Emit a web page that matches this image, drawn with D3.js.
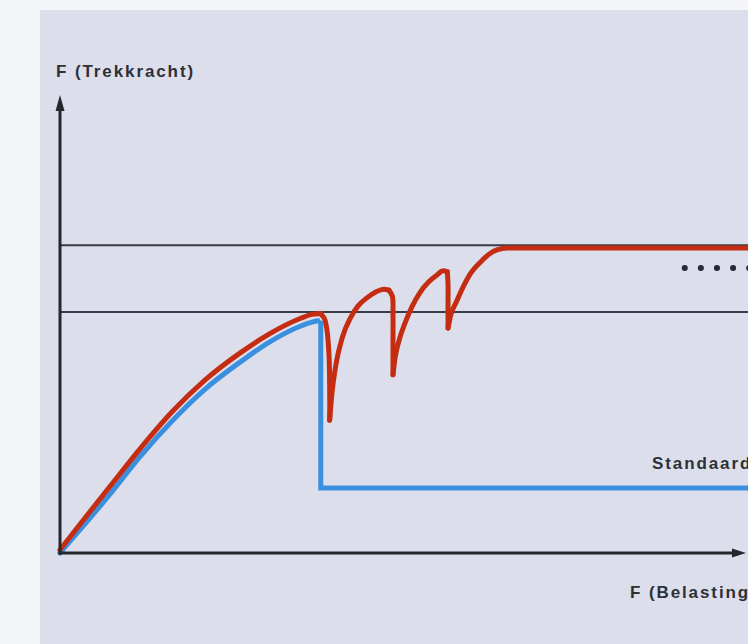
<!DOCTYPE html>
<html>
<head>
<meta charset="utf-8">
<script src="https://cdn.jsdelivr.net/npm/d3@7"></script>
<style>
html,body{margin:0;padding:0;background:#f4f5f9;}
svg{display:block;}
text{font-family:"Liberation Sans",Arial,sans-serif;font-weight:bold;fill:#2e3036;}
</style>
</head>
<body>
<svg id="chart" width="748" height="644"></svg>
<script>
// ---- data (load units 0-100 horizontally, force units 0-100 vertically) ----
const axisLabels = ["F (Trekkracht)", "F (Belasting)"];
const seriesLabels = ["Standaard"];
const upperLimit = 67.2;   // upper horizontal reference line
const lowerLimit = 52.6;   // lower horizontal reference line
const dottedLevel = 62.2;  // dotted leader level
const dottedStart = 90.8;

// blue: standard — rising part, then break and residual level
const blueRise = [[0,0],[3.6,6.3],[7.3,12.9],[11.6,21.0],[16.4,29.0],[21.1,35.8],[26.2,41.7],[30.5,46.1],[34.9,49.5],[36.6,50.4],[37.5,50.7]];
const blueBreak = [[37.9,50.2],[37.9,14.2],[100,14.2]];

// red: rising arms (even index) and falling hooks (odd index)
const redSegments = [
  [[0,0.7],[3.6,7.6],[7.3,14.6],[11.6,22.7],[16.4,31.0],[21.1,37.8],[26.2,43.7],[30.5,47.9],[34.9,51.2],[36.6,52.1],[37.8,52.3]],
  [[37.8,52.3],[38.4,51.3],[38.8,48.7],[39.1,43.2],[39.2,35.6],[39.2,29.0]],
  [[39.2,29.0],[39.5,34.5],[40.1,41.1],[41.0,46.9],[42.2,51.3],[43.3,53.9],[44.6,55.7],[45.9,57.0],[47.1,57.6],[47.8,57.4]],
  [[47.8,57.4],[48.3,56.1],[48.4,51.9],[48.4,45.4],[48.4,38.9]],
  [[48.4,38.9],[48.7,42.6],[49.3,46.5],[50.2,50.4],[51.2,53.9],[52.3,56.8],[53.6,59.2],[54.8,60.7],[55.7,61.6],[56.3,61.4]],
  [[56.3,61.4],[56.4,58.5],[56.4,54.2],[56.4,49.1]],
  [[56.4,49.1],[56.8,52.0],[57.6,54.8],[58.6,58.1],[59.7,61.1],[61.1,63.5],[62.4,65.3],[63.5,66.2],[65.0,66.6],[100,66.6]]
];

// ---- drawing ----
const svg = d3.select("#chart");
const W = 748, H = 644;
const x = d3.scaleLinear().domain([0,100]).range([60,748]);
const y = d3.scaleLinear().domain([0,100]).range([553,95]);

// panel
svg.append("rect").attr("x",40).attr("y",10).attr("width",W-40).attr("height",H-10).attr("fill","#dcdfeb");

// reference lines
svg.selectAll("line.ref").data([upperLimit, lowerLimit]).enter().append("line")
  .attr("class","ref")
  .attr("x1",x(0)).attr("x2",x(100))
  .attr("y1",d=>y(d)).attr("y2",d=>y(d))
  .attr("stroke","#3b3d45").attr("stroke-width",2);

const rise = d3.line().x(d=>x(d[0])).y(d=>y(d[1])).curve(d3.curveMonotoneX);
const hook = d3.line().x(d=>x(d[0])).y(d=>y(d[1])).curve(d3.curveCatmullRom.alpha(0.5));
const lin = d3.line().x(d=>x(d[0])).y(d=>y(d[1]));

// blue series
const blue = svg.append("g").attr("fill","none").attr("stroke","#3b8fdf").attr("stroke-width",5)
  .attr("stroke-linecap","round").attr("stroke-linejoin","round");
blue.append("path").attr("d",rise(blueRise));
blue.append("path").attr("d",lin(blueBreak)).attr("stroke-linejoin","miter");

// red series
const red = svg.append("g").attr("fill","none").attr("stroke","#c42d12").attr("stroke-width",5)
  .attr("stroke-linecap","round").attr("stroke-linejoin","round");
red.selectAll("path").data(redSegments).enter().append("path")
  .attr("d",(d,i)=> i % 2 === 0 ? rise(d) : hook(d));

// dotted leader
svg.append("line").attr("x1",x(dottedStart)).attr("x2",x(100)+10)
  .attr("y1",y(dottedLevel)).attr("y2",y(dottedLevel))
  .attr("stroke","#262a36").attr("stroke-width",6).attr("stroke-linecap","round")
  .attr("stroke-dasharray","0.1 16");

// axes
const axisColor = "#25272d";
svg.append("line").attr("x1",x(0)).attr("x2",x(0)).attr("y1",y(0)+1.5).attr("y2",y(100)+12)
  .attr("stroke",axisColor).attr("stroke-width",3);
svg.append("line").attr("x1",x(0)-1.5).attr("x2",x(100)-10).attr("y1",y(0)).attr("y2",y(0))
  .attr("stroke",axisColor).attr("stroke-width",3);
// arrowheads
svg.append("path").attr("fill",axisColor)
  .attr("d",`M${x(0)},${y(100)} L${x(0)-4.5},${y(100)+16} L${x(0)+4.5},${y(100)+16} Z`);
svg.append("path").attr("fill",axisColor)
  .attr("d",`M${x(100)-2},${y(0)} L${x(100)-16},${y(0)-4.5} L${x(100)-16},${y(0)+4.5} Z`);

// texts
svg.append("text").attr("x",56).attr("y",77).attr("font-size",17).attr("letter-spacing",1.9).text(axisLabels[0]);
svg.append("text").attr("x",630).attr("y",598).attr("font-size",17).attr("letter-spacing",1.9).text(axisLabels[1]);
svg.append("text").attr("x",652).attr("y",469).attr("font-size",17).attr("letter-spacing",1.9).text(seriesLabels[0]);
</script>
</body>
</html>
